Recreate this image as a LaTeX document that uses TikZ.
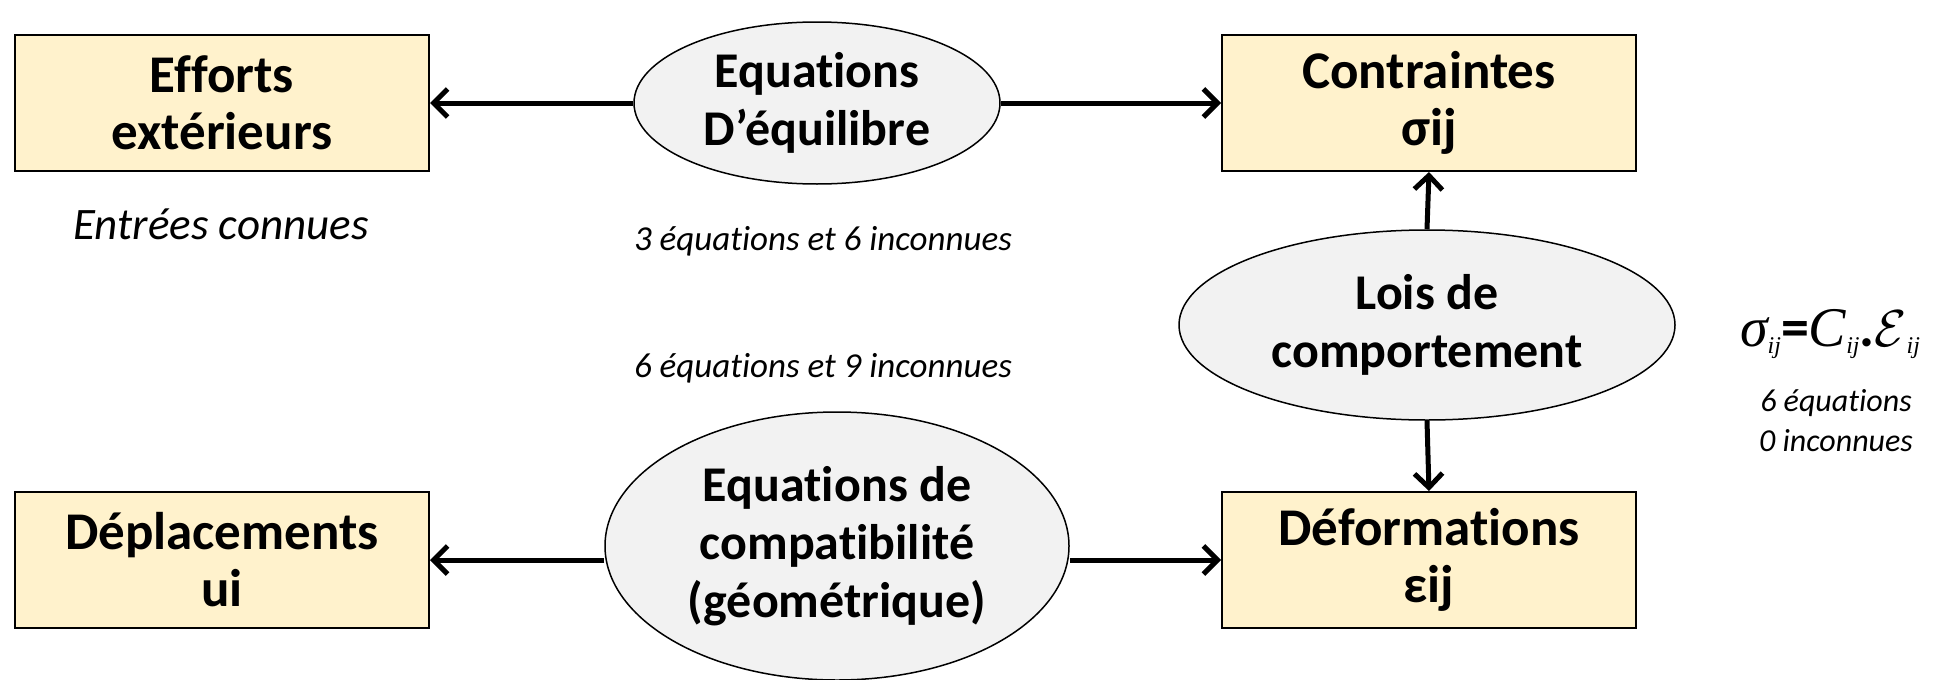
\documentclass[tikz,border=0pt]{standalone}
\usepackage{fontspec}
\usepackage{graphicx}
\setmainfont{Carlito}[Ligatures=NoCommon]
\newfontfamily\fserif{Liberation Serif}
\usetikzlibrary{arrows.meta,shapes.geometric}
\definecolor{boxfill}{HTML}{FFF2CC}
\definecolor{ellfill}{HTML}{F2F2F2}
\newcommand{\mysub}[1]{{\fontsize{24}{24}\selectfont\raisebox{-7pt}{#1}}}
\begin{document}
\begin{tikzpicture}[x=1pt,y=-1pt,
  boxnode/.style={draw=black,line width=2pt,fill=boxfill,minimum width=414pt,minimum height=136pt,inner sep=0pt,align=center,font=\fontsize{53}{57}\selectfont\bfseries},
  ellnode/.style={draw=black,line width=1.5pt,fill=ellfill,ellipse,inner sep=0pt,align=center,font=\fontsize{50}{58}\selectfont\bfseries},
  arr/.style={line width=5pt,-{Straight Barb[length=14pt,width=28pt,line width=5pt]}},
  note/.style={font=\fontsize{35}{42}\selectfont\itshape,align=center,inner sep=0pt}]
\useasboundingbox (0,0) rectangle (1949,680);
\node[boxnode] (eff) at (222,103) {Efforts\\extérieurs};
\node[boxnode] (con) at (1429,103) {Contraintes\\σij};
\node[boxnode] (def) at (1429,560) {Déformations\\εij};
\node[boxnode] (dep) at (222,560) {Déplacements\\ui};
\node[ellnode,minimum width=366pt,minimum height=162pt] (eqe) at (817,103) {Equations\\D’équilibre};
\node[ellnode,minimum width=496pt,minimum height=190pt] (lois) at (1427,325) {Lois de\\comportement};
\node[ellnode,minimum width=464pt,minimum height=268pt] (eqc) at (837,546) {Equations de\\compatibilité\\(géométrique)};
\draw[arr] (eqe.west) -- (eff.east);
\draw[arr] (eqe.east) -- (con.west);
\draw[arr] (lois.north) -- (con.south);
\draw[arr] (lois.south) -- (def.north);
\draw[arr] (eqc.west |- dep.east) -- (dep.east);
\draw[arr] (eqc.east |- def.west) -- (def.west);
\node[note,font=\fontsize{45}{50}\selectfont\itshape] (entrees) at (221,224) {Entrées connues};
\node[note] (n1) at (823,241) {3 équations et 6 inconnues};
\node[note] (n2) at (823,368) {6 équations et 9 inconnues};
\node[inner sep=0pt,font=\fserif\itshape\fontsize{56}{56}\selectfont] (form) at (1830,334) {σ\mysub{ij}{\rmfamily\upshape\bfseries =}C\mysub{ij}{\rmfamily\upshape\bfseries .}\scalebox{5.2}{\fontsize{10}{12}\selectfont$\mathcal{E}$}\mysub{ij}};
\node[note,font=\fontsize{32}{40}\selectfont\itshape] (n3) at (1836,421) {6 équations\\0 inconnues};
\end{tikzpicture}
\end{document}
